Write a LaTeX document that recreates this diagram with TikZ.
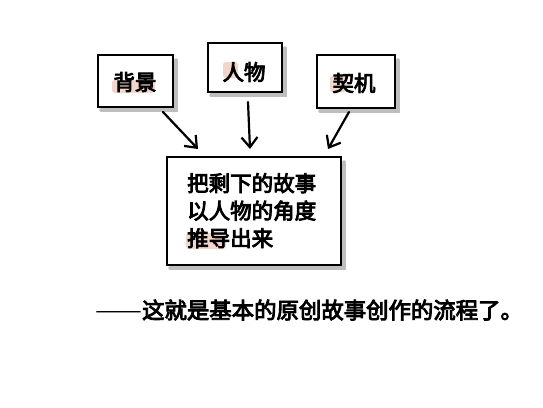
\documentclass[tikz,border=0pt]{standalone}
\usepackage{graphicx}
\usepackage{fontspec}
\newfontfamily\cjk{Noto Sans CJK SC}[FakeBold=4]
\newfontfamily\cjkr{Noto Sans CJK SC}
\usetikzlibrary{arrows.meta}
\definecolor{hl}{HTML}{F2D6CC}
\definecolor{shade}{HTML}{8A8A8A}
\tikzset{
  x=1pt, y=-1pt,
  lbl/.style={font=\cjk\fontsize{21.5}{27.5}\selectfont, inner sep=0pt},
  frame/.style={draw=black, line width=2.6pt, fill=white},
  shadowline/.style={draw=shade, line width=3.5pt, line cap=round, opacity=0.55},
  arr/.style={draw=black, line width=2.2pt, line cap=round, -{Straight Barb[length=10pt,width=16pt,line width=2.2pt]}},
  hlbox/.style={fill=hl, rounded corners=3pt},
}
\begin{document}
\begin{tikzpicture}
\useasboundingbox (0,0) rectangle (543,407);
\fill[white] (0,0) rectangle (543,407);
% shadows
\draw[shadowline] (176,60) -- (176,110) -- (101,110);
\draw[shadowline] (285,48) -- (285,95) -- (211,95);
\draw[shadowline] (398,60) -- (398,111) -- (320,111);
\draw[shadowline] (344,162) -- (344,268) -- (170,268);
% boxes
\draw[frame] (98,55) rectangle (173,107);
\draw[frame] (208,43) rectangle (282,92);
\draw[frame] (317,55) rectangle (395,108);
\draw[frame] (167,157) rectangle (341,265);
% highlights
\fill[hlbox] (112,80) rectangle (155,93);
\fill[hlbox] (223,62) rectangle (238,78);
\fill[hlbox] (330,76) rectangle (347,92);
\fill[hlbox] (186,233) rectangle (226,249);
% texts
\node[lbl] (bj) at (135,82) {背景};
\node[lbl] (rw) at (244,72) {人物};
\node[lbl] (qj) at (354,83) {契机};
\node[lbl, anchor=north west, align=left] (main) at (187,173) {把剩下的故事\\以人物的角度\\推导出来};
\node[lbl, anchor=west, font=\cjk\fontsize{22.4}{26}\selectfont] (note) at (95,310) {{\cjkr\scalebox{1.25}[1]{——}}这就是基本的原创故事创作的流程了。};
% connector endpoints
\coordinate (a1) at (163,112);
\coordinate (a2) at (198,149);
\coordinate (b1) at (248,102);
\coordinate (b2) at (250,149);
\coordinate (c1) at (349,112);
\coordinate (c2) at (328,149);
\draw[arr] (a1) -- (a2);
\draw[arr] (b1) -- (b2);
\draw[arr] (c1) -- (c2);
\end{tikzpicture}
\end{document}
